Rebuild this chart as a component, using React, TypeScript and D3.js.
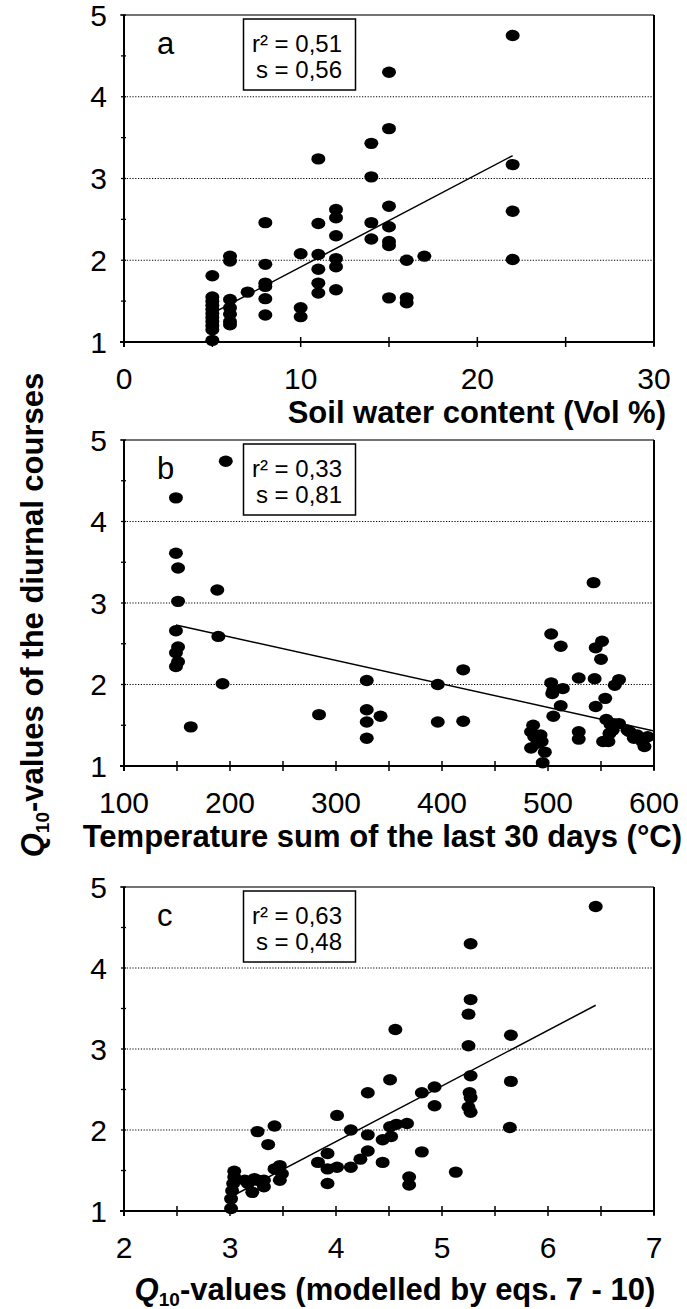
import React from "react";
import * as d3 from "d3";

// ---------- data ----------
// Panel a: soil water content (Vol %) vs Q10
const soilWater = [22, 15, 15, 14, 11, 14, 22, 22, 22, 15, 12, 12, 12, 8, 11, 14, 14, 15, 15, 15, 10, 11, 12, 12, 16, 17, 6, 6, 8, 5, 11, 11, 11, 12, 8, 8, 7, 8, 8, 10, 10, 15, 16, 16, 6, 6, 6, 6, 6, 5, 5, 5, 5, 5, 5, 5, 5, 5, 5];
const q10A = [4.75, 4.3, 3.61, 3.43, 3.24, 3.02, 3.17, 2.6, 2.01, 2.66, 2.62, 2.52, 2.3, 2.46, 2.45, 2.46, 2.26, 2.41, 2.23, 2.18, 2.08, 2.07, 2.02, 1.92, 2.0, 2.05, 2.05, 1.99, 1.95, 1.81, 1.89, 1.72, 1.6, 1.64, 1.72, 1.68, 1.61, 1.53, 1.33, 1.42, 1.31, 1.54, 1.54, 1.48, 1.52, 1.42, 1.34, 1.25, 1.21, 1.55, 1.5, 1.45, 1.4, 1.35, 1.3, 1.25, 1.2, 1.15, 1.02];
const fitAx = [5, 22];
const fitAy = [1.35, 3.28];

// Panel b: temperature sum of the last 30 days vs Q10
const tempSum = [196, 149, 149, 151, 151, 188, 149, 151, 149, 151, 149, 189, 193, 163, 284, 329, 329, 329, 329, 342, 396, 396, 420, 420, 503, 512, 503, 505, 504, 514, 512, 505, 486, 484, 487, 484, 490, 493, 494, 497, 495, 529, 529, 529, 543, 545, 551, 544, 550, 554, 545, 563, 567, 555, 559, 562, 567, 561, 558, 557, 552, 577, 581, 584, 589, 591, 594, 575];
const q10B = [4.74, 4.29, 3.61, 3.43, 3.02, 3.16, 2.66, 2.46, 2.39, 2.28, 2.22, 2.59, 2.01, 1.48, 1.63, 2.05, 1.69, 1.54, 1.34, 1.61, 2.0, 1.54, 2.18, 1.55, 2.62, 2.47, 2.02, 1.93, 1.89, 1.95, 1.74, 1.61, 1.5, 1.42, 1.36, 1.22, 1.28, 1.38, 1.3, 1.17, 1.04, 2.08, 1.42, 1.33, 3.25, 2.45, 2.53, 2.07, 2.31, 1.83, 1.73, 1.99, 2.06, 1.57, 1.51, 1.52, 1.52, 1.44, 1.4, 1.3, 1.3, 1.42, 1.34, 1.38, 1.3, 1.24, 1.36, 1.44];
const fitBx = [149, 600];
const fitBy = [2.73, 1.43];

// Panel c: modelled Q10 vs observed Q10
const q10Model = [6.45, 5.27, 5.27, 5.25, 4.56, 5.25, 5.65, 5.65, 5.64, 5.27, 4.51, 4.3, 4.81, 4.93, 5.26, 5.27, 4.93, 5.25, 5.27, 4.01, 3.26, 3.42, 3.36, 4.14, 4.3, 4.51, 4.57, 4.67, 4.44, 4.52, 4.3, 4.23, 4.81, 4.44, 4.14, 4.01, 3.92, 3.92, 3.83, 3.92, 4.69, 4.69, 5.13, 3.42, 3.47, 3.49, 3.47, 3.04, 3.04, 3.03, 3.02, 3.01, 3.01, 3.17, 3.23, 3.26, 3.32, 3.21, 3.32, 3.14];
const q10C = [4.76, 4.3, 3.61, 3.43, 3.24, 3.04, 3.17, 2.6, 2.03, 2.67, 2.62, 2.46, 2.46, 2.53, 2.46, 2.4, 2.3, 2.28, 2.22, 2.18, 1.98, 2.05, 1.82, 2.0, 1.94, 2.04, 2.07, 2.08, 1.88, 1.92, 1.74, 1.64, 1.73, 1.6, 1.54, 1.54, 1.71, 1.52, 1.6, 1.34, 1.42, 1.32, 1.48, 1.52, 1.56, 1.46, 1.38, 1.49, 1.42, 1.34, 1.25, 1.15, 1.03, 1.34, 1.4, 1.38, 1.38, 1.23, 1.3, 1.38];
const fitCx = [3.0, 6.45];
const fitCy = [1.17, 3.54];

const yDomain = [1, 5];
const yLabelTicks = [1, 2, 3, 4, 5];
const gridValues = [2, 3, 4];

const xDomainA = [0, 30];
const xLabelsA = [0, 10, 20, 30];
const xDomainB = [100, 600];
const xLabelsB = [100, 200, 300, 400, 500, 600];
const xDomainC = [2, 7];
const xLabelsC = [2, 3, 4, 5, 6, 7];

const letters = ["a", "b", "c"];
const r2Values = ["0,51", "0,33", "0,63"];
const sValues = ["0,56", "0,81", "0,48"];

// ---------- layout ----------
const W = 687;
const H = 1309;
const LEFT = 124;
const RIGHT = 654;
const FONT = "'Liberation Sans', Arial, Helvetica, sans-serif";

type PanelProps = {
  top: number;
  bottom: number;
  xDomain: number[];
  xLabels: number[];
  xStep: number;
  xs: number[];
  ys: number[];
  fx: number[];
  fy: number[];
  letter: string;
  r2: string;
  s: string;
};

function Panel(p: PanelProps) {
  const x = d3.scaleLinear().domain(p.xDomain).range([LEFT, RIGHT]);
  const y = d3.scaleLinear().domain(yDomain).range([p.bottom, p.top]);
  const xMinor = d3.range(p.xDomain[0], p.xDomain[1] + p.xStep / 2, p.xStep);
  const yMinor = d3.range(yDomain[0], yDomain[1] + 0.25, 0.5);
  const line = d3
    .line<number>()
    .x((_, i) => x(p.fx[i]))
    .y((v) => y(v));
  return (
    <g>
      {gridValues.map((g) => (
        <line
          key={"g" + g}
          x1={LEFT}
          x2={RIGHT}
          y1={y(g)}
          y2={y(g)}
          stroke="#000"
          strokeWidth={1}
          strokeDasharray="1.2,1.6"
        />
      ))}
      {/* frame */}
      <line x1={LEFT - 4} x2={RIGHT} y1={p.top} y2={p.top} stroke="#444" strokeWidth={1.5} />
      <line x1={RIGHT} x2={RIGHT} y1={p.top} y2={p.bottom + 4} stroke="#000" strokeWidth={2} />
      <line x1={LEFT} x2={LEFT} y1={p.top} y2={p.bottom + 5} stroke="#000" strokeWidth={2} />
      <line x1={LEFT - 4} x2={RIGHT} y1={p.bottom} y2={p.bottom} stroke="#000" strokeWidth={2} />
      {yMinor.map((v) => (
        <line key={"yt" + v} x1={LEFT - 3} x2={LEFT + 2} y1={y(v)} y2={y(v)} stroke="#000" strokeWidth={1.3} />
      ))}
      {xMinor.map((v) => (
        <line key={"xt" + v} x1={x(v)} x2={x(v)} y1={p.bottom - 5} y2={p.bottom + 5} stroke="#000" strokeWidth={1.5} />
      ))}
      {yLabelTicks.map((v) => (
        <text key={"yl" + v} x={107} y={y(v) + 10.5} fontSize={30} textAnchor="end" fontFamily={FONT}>
          {v}
        </text>
      ))}
      {p.xLabels.map((v) => (
        <text key={"xl" + v} x={x(v)} y={p.bottom + 47} fontSize={30} textAnchor="middle" fontFamily={FONT}>
          {v}
        </text>
      ))}
      <path d={line(p.fy) || ""} fill="none" stroke="#000" strokeWidth={1.5} />
      {p.xs.map((v, i) => (
        <ellipse key={"d" + i} cx={x(v)} cy={y(p.ys[i])} rx={7} ry={5.7} fill="#000" />
      ))}
      <text x={157} y={p.top + 39} fontSize={31} fontFamily={FONT}>
        {p.letter}
      </text>
      <rect x={243.5} y={p.top + 4} width={112} height={71} fill="#fff" stroke="#000" strokeWidth={1.5} />
      <text x={342} y={p.top + 37} fontSize={24} textAnchor="end" fontFamily={FONT}>
        {"r² = " + p.r2}
      </text>
      <text x={342} y={p.top + 63} fontSize={24} textAnchor="end" fontFamily={FONT}>
        {"s = " + p.s}
      </text>
    </g>
  );
}

export default function App() {
  return (
    <svg
      width={W}
      height={H}
      style={{ position: "absolute", left: 0, top: 0, background: "#fff" }}
      fontFamily={FONT}
    >
      <rect x={0} y={0} width={W} height={H} fill="#fff" />
      <Panel top={15} bottom={342} xDomain={xDomainA} xLabels={xLabelsA} xStep={5} xs={soilWater} ys={q10A} fx={fitAx} fy={fitAy} letter={letters[0]} r2={r2Values[0]} s={sValues[0]} />
      <Panel top={440} bottom={766} xDomain={xDomainB} xLabels={xLabelsB} xStep={50} xs={tempSum} ys={q10B} fx={fitBx} fy={fitBy} letter={letters[1]} r2={r2Values[1]} s={sValues[1]} />
      <Panel top={887} bottom={1211} xDomain={xDomainC} xLabels={xLabelsC} xStep={0.5} xs={q10Model} ys={q10C} fx={fitCx} fy={fitCy} letter={letters[2]} r2={r2Values[2]} s={sValues[2]} />

      <text x={666} y={423} fontSize={31} fontWeight="bold" textAnchor="end">
        Soil water content (Vol %)
      </text>
      <text x={682} y={847} fontSize={31} fontWeight="bold" textAnchor="end">
        Temperature sum of the last 30 days (°C)
      </text>
      <text x={395} y={1300} fontSize={31} fontWeight="bold" textAnchor="middle">
        <tspan fontStyle="italic">Q</tspan>
        <tspan fontSize={19} dy={6}>10</tspan>
        <tspan dy={-6}>-values (modelled by eqs. 7 - 10)</tspan>
      </text>
      <text transform="translate(43,615) rotate(-90)" fontSize={31} fontWeight="bold" textAnchor="middle">
        <tspan fontStyle="italic">Q</tspan>
        <tspan fontSize={19} dy={6}>10</tspan>
        <tspan dy={-6}>-values of the diurnal courses</tspan>
      </text>
    </svg>
  );
}
